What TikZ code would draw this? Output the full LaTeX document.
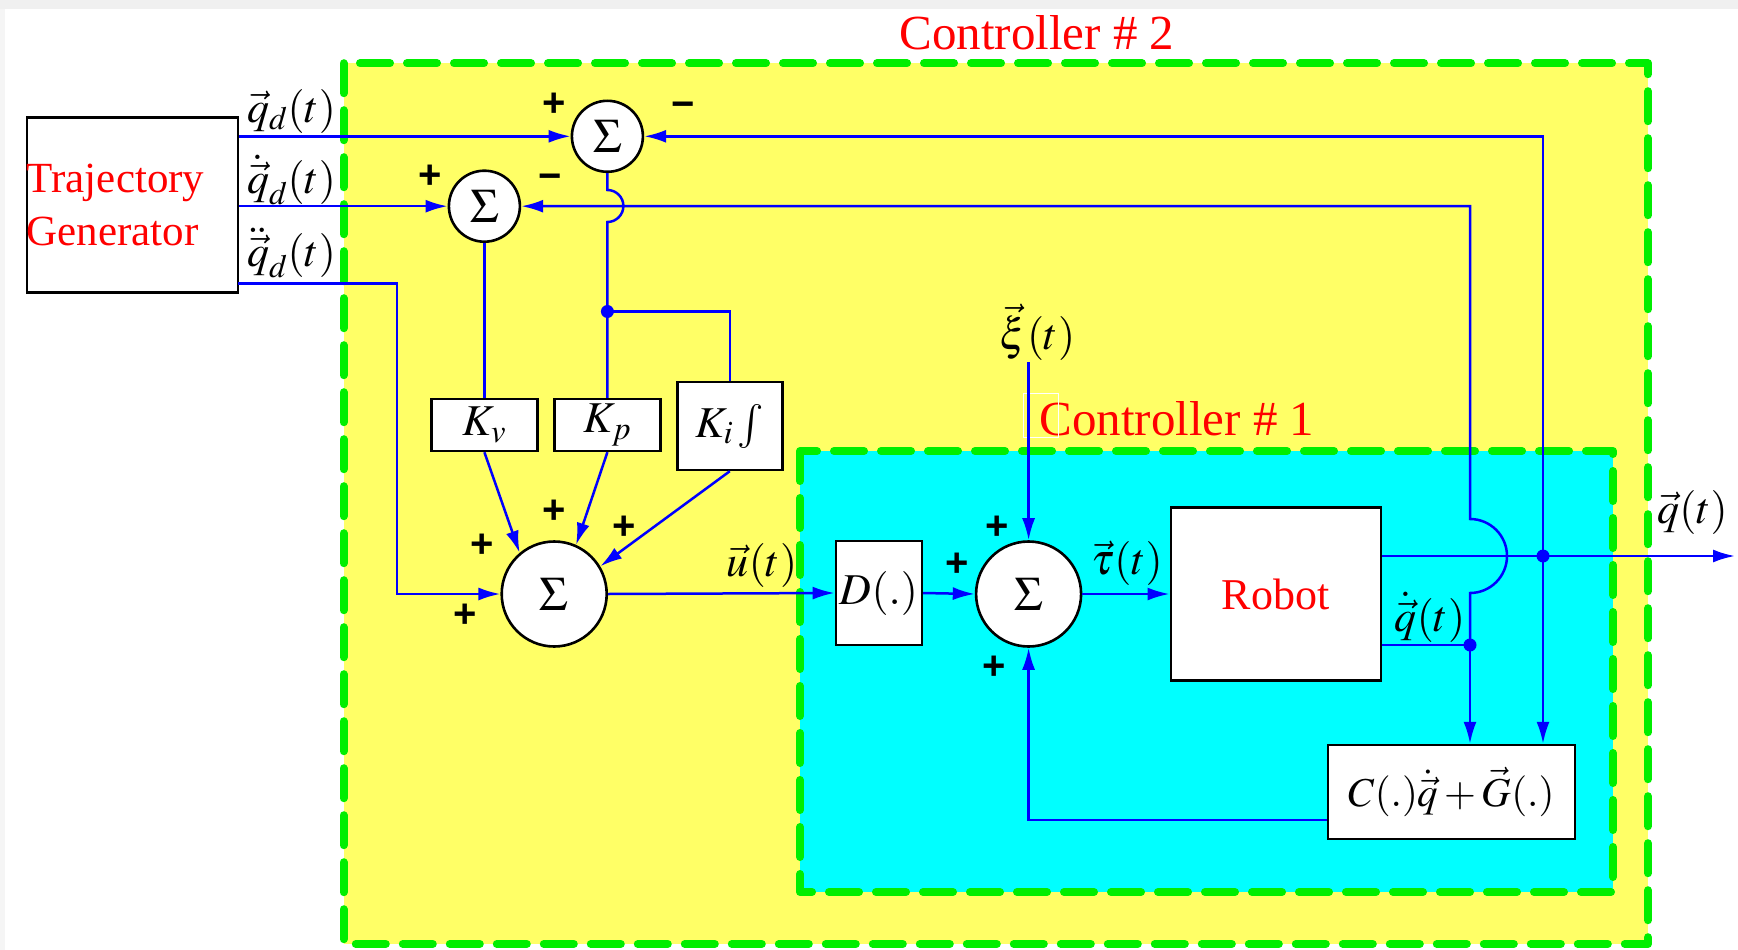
\documentclass[tikz,border=0pt]{standalone}
\usepackage{mathptmx}
\usepackage[no-math]{fontspec}
\setmainfont{Liberation Serif}
\newfontfamily\plusfont{Liberation Sans}
\usetikzlibrary{arrows.meta,calc}
\definecolor{ctrlyellow}{RGB}{255,255,102}
\definecolor{ctrlcyan}{RGB}{0,255,255}
\definecolor{dashgreen}{RGB}{0,238,0}
\definecolor{sigblue}{RGB}{0,0,255}
\begin{document}
\begin{tikzpicture}[x=1pt,y=-1pt,
  every node/.style={font=\fontsize{44}{53}\selectfont},
  blk/.style={draw=black,line width=2.4pt,fill=white,inner sep=0pt},
  sumnode/.style={circle,draw=black,line width=2.6pt,fill=white,inner sep=0pt,font=\fontsize{48}{48}\selectfont},
  sig/.style={draw=sigblue,line width=2.5pt},
  sigarrow/.style={sig,-{Latex[length=22pt,width=13pt]}},
  ctrlbox/.style={draw=dashgreen,line width=8pt,dash pattern=on 30pt off 17pt,line cap=round,line join=round},
  sgn/.style={font=\plusfont\bfseries\fontsize{40}{40}\selectfont,inner sep=0pt},
  redlbl/.style={text=red,inner sep=0pt,font=\fontsize{49}{49}\selectfont},
  mlbl/.style={inner sep=1pt},
  jdot/.style={circle,fill=sigblue,inner sep=0pt,minimum size=13pt}
]
\useasboundingbox (0,0) rectangle (1738,950);
\fill[gray!12] (0,0) rectangle (1738,9);
\fill[gray!8] (0,9) rectangle (5,950);
\draw[ctrlbox,fill=ctrlyellow] (343.6,63.2) rectangle (1648,944);
\draw[ctrlbox,fill=ctrlcyan] (800,451) rectangle (1613,892);

\node[redlbl] (c2lbl) at (1037,33) {Controller \# 2};
\node[redlbl] (c1lbl) at (1177,419) {Controller \# 1};
\draw[white,line width=1pt] (1023,393) rectangle (1058,437);

% blocks
\node[blk,minimum width=211pt,minimum height=175pt,text width=211pt,align=left,text=red,font=\fontsize{43}{53}\selectfont] (traj) at (132.3,205) {Trajectory\\Generator};
\node[sumnode,minimum size=71pt] (S1) at (607.4,136.3) {$\Sigma$};
\node[sumnode,minimum size=71pt] (S2) at (484.4,206.2) {$\Sigma$};
\node[sumnode,minimum size=105pt] (S3) at (554.2,594) {$\Sigma$};
\node[sumnode,minimum size=105pt] (S4) at (1028.6,594) {$\Sigma$};
\node[blk,minimum width=106pt,minimum height=52pt] (Kv) at (484.4,425) {$K_v$};
\node[blk,minimum width=106pt,minimum height=52pt] (Kp) at (607.4,425) {$K_p$};
\node[blk,minimum width=105pt,minimum height=88pt] (Ki) at (729.8,426) {$K_i\int$};
\node[blk,minimum width=86pt,minimum height=104pt] (D) at (878.8,593) {$D(.)$};
\node[blk,minimum width=210pt,minimum height=173pt,text=red] (Robot) at (1275.7,594) {Robot};
\node[blk,minimum width=247pt,minimum height=94pt,font=\fontsize{41}{41}\selectfont] (C) at (1451.5,792) {$C(.)\dot{\vec{q}} + \vec{G}(.)$};

% coordinates
\coordinate (tq3) at (238,283.7);
\coordinate (q3c) at (396.8,283.7);
\coordinate (dot1) at (607.4,311.5);
\coordinate (j1) at (1543,556);
\coordinate (qend) at (1735,556);
\coordinate (j2) at (1470,645);
\coordinate (xi) at (1028.6,362);

% connectors
\draw[sigarrow] (traj.east |- S1) -- (S1);
\draw[sigarrow] (traj.east |- S2) -- (S2);
\draw[sigarrow] (tq3) -- (q3c) -- (q3c |- S3) -- (S3);
\draw[sig] (S1.south) -- (607.4,190) .. controls (616.24,190) and (623.4,197.16) .. (623.4,206) .. controls (623.4,214.84) and (616.24,222) .. (607.4,222) -- (dot1) -- (Kp.north);
\draw[sig] (dot1) -| (Ki.north);
\node[jdot] (d1) at (dot1) {};
\draw[sig] (S2.south) -- (Kv.north);
\draw[sigarrow] (Kv.south) -- (S3.130);
\draw[sigarrow] (Kp.south) -- (S3.66);
\draw[sigarrow] (Ki.south) -- (S3.31);
\draw[sigarrow] (S3.east) -- (D.west);
\draw[sigarrow] (D.east) -- (S4.west);
\draw[sigarrow] (S4.east) -- (Robot.west);
\draw[sigarrow] (xi) -- (S4.north);
\draw[sigarrow] ([yshift=-28pt]C.west) -| (S4.south);
\draw[sigarrow] (Robot.east |- j1) -- (qend);
\draw[sigarrow] (j1) -- (j1 |- S1) -- (S1);
\draw[sigarrow] (j1) -- (j1 |- C.north);
\node[jdot] (d2) at (j1) {};
\draw[sig] (Robot.east |- j2) -- (j2);
\draw[sigarrow] (j2) -- (j2 |- C.north);
\draw[sigarrow] (j2) -- (1470,593) .. controls (1490.4,593) and (1507,576.4) .. (1507,556) .. controls (1507,535.6) and (1490.4,519) .. (1470,519) -- (j2 |- S2) -- (S2);
\node[jdot] (d3) at (j2) {};

% signs
\node[sgn] (p1a) at (554,105) {+};
\node[sgn] (m1) at (683,110) {−};
\node[sgn] (p2a) at (430,177) {+};
\node[sgn] (m2) at (550,182) {−};
\node[sgn] (p3a) at (482,546) {+};
\node[sgn] (p3b) at (554,512) {+};
\node[sgn] (p3c) at (624,527.6) {+};
\node[sgn] (p3d) at (465.5,616) {+};
\node[sgn] (p4a) at (997.6,527.6) {+};
\node[sgn] (p4b) at (957.6,565) {+};
\node[sgn] (p4c) at (994,668) {+};

% signal labels
\node[mlbl] (lq1) at (291.5,111) {$\vec{q}_d(t)$};
\node[mlbl] (lq2) at (291.5,179.6) {$\dot{\vec{q}}_d(t)$};
\node[mlbl] (lq3) at (291.5,252.7) {$\ddot{\vec{q}}_d(t)$};
\node[mlbl] (lu) at (762,565) {$\vec{u}(t)$};
\node[mlbl] (ltau) at (1127,563) {$\vec{\tau}(t)$};
\node[mlbl] (lxi) at (1037.5,332) {$\vec{\xi}(t)$};
\node[mlbl] (lqd) at (1430,617) {$\dot{\vec{q}}(t)$};
\node[mlbl] (lq) at (1692.5,512) {$\vec{q}(t)$};
\end{tikzpicture}
\end{document}
